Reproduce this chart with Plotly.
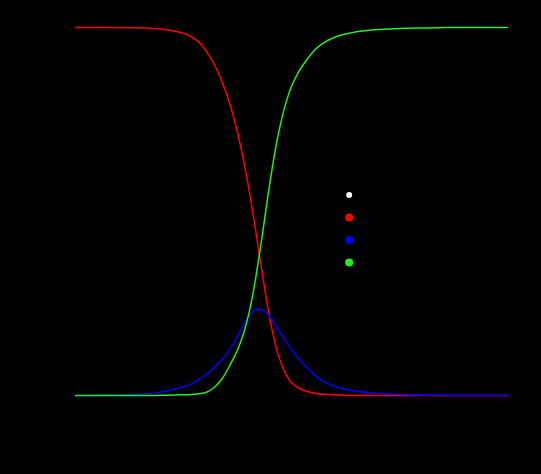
import plotly.graph_objects as go

# pH values and species fractions
ph = [0, 1, 2, 2.5, 3, 3.5, 3.75, 4, 4.25, 4.5, 4.75,
      5, 5.125, 5.25, 5.375, 5.5, 5.625, 5.75, 5.875, 6, 6.125, 6.25, 6.375,
      6.5, 6.625, 6.75, 6.875, 7,
      7.25, 7.5, 7.75, 8, 8.5, 9, 9.5, 10, 11, 12, 13, 14]
frac_h2a = [1.000, 1.000, 0.999, 0.997, 0.993, 0.984, 0.975, 0.960, 0.935, 0.900, 0.853,
            0.794, 0.757, 0.716, 0.669, 0.617, 0.560, 0.497, 0.430, 0.362, 0.295, 0.232,
            0.177, 0.132, 0.097, 0.070, 0.050, 0.035,
            0.020, 0.011, 0.0065, 0.004, 0.0015, 0.0005, 0.0, 0.0, 0.0, 0.0, 0.0, 0.0]
frac_ha = [0.000, 0.001, 0.003, 0.006, 0.013, 0.024, 0.031, 0.043, 0.058, 0.076, 0.098,
           0.125, 0.142, 0.161, 0.181, 0.200, 0.216, 0.228, 0.234, 0.234, 0.229, 0.219,
           0.206, 0.190, 0.173, 0.156, 0.140, 0.125,
           0.098, 0.076, 0.055, 0.040, 0.022, 0.013, 0.008, 0.005, 0.0015, 0.0005, 0.0, 0.0]
frac_a = [0.000, 0.000, 0.000, 0.000, 0.001, 0.002, 0.003, 0.005, 0.009, 0.022, 0.045,
          0.081, 0.101, 0.123, 0.150, 0.183, 0.224, 0.275, 0.336, 0.404, 0.476, 0.549,
          0.617, 0.678, 0.730, 0.774, 0.810, 0.840,
          0.882, 0.913, 0.9385, 0.956, 0.9765, 0.9865, 0.992, 0.995, 0.9985, 0.9995, 1.0, 1.0]

names = ['Total', 'H2A', 'HA-', 'A2-']
colors = ['white', '#ff0000', '#0000ff', '#22ee22']
series = [None, frac_h2a, frac_ha, frac_a]

fig = go.Figure()

for name, color, ys in zip(names, colors, series):
    if ys is not None:
        fig.add_trace(go.Scatter(
            x=ph, y=ys, mode='lines',
            line=dict(color=color, width=1.5, shape='spline', smoothing=1.0),
            name=name, legendgroup=name, showlegend=False,
        ))

# legend entries drawn as dots
for name, color in zip(names, colors):
    fig.add_trace(go.Scatter(
        x=[None], y=[None], mode='markers', name=name, legendgroup=name,
        marker=dict(color=color, size=6 if color == 'white' else 8),
    ))

fig.update_layout(
    width=541, height=474,
    paper_bgcolor='black', plot_bgcolor='black',
    font=dict(color='black', size=13),
    margin=dict(l=75, r=33, t=9, b=60),
    legend=dict(x=0.587, y=0.581, xanchor='left', yanchor='top',
                font=dict(size=15), bgcolor='rgba(0,0,0,0)', tracegroupgap=0),
    xaxis=dict(title='pH', showgrid=False, zeroline=False, range=[0, 14]),
    yaxis=dict(title='Fraction', showgrid=False, zeroline=False, range=[-0.05, 1.05]),
)

fig.write_html("out.html", config={'displayModeBar': False},
               post_script="document.body.style.margin='0';"
                           "document.body.style.background='black';")
